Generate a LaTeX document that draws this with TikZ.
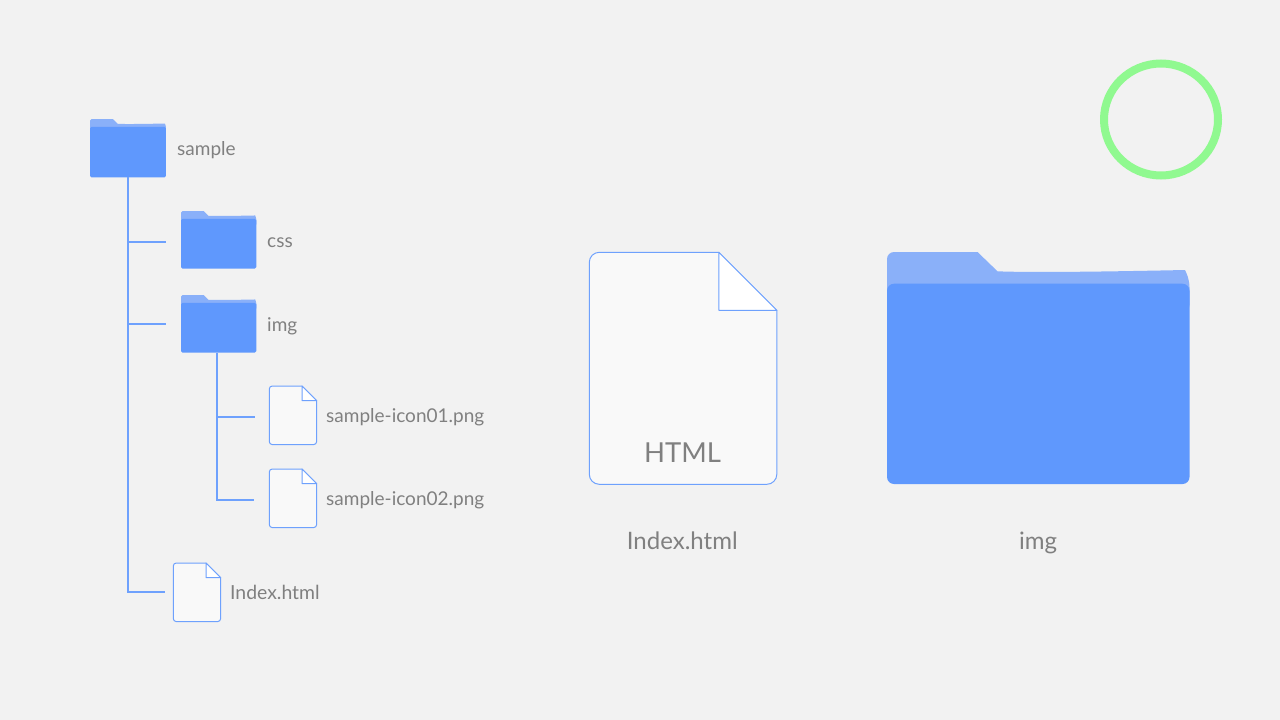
\documentclass[tikz,border=0pt]{standalone}
\usepackage{fontspec}
\usetikzlibrary{shapes.geometric}
\setmainfont{Lato}
\definecolor{bgcol}{HTML}{F2F2F2}
\definecolor{bluecol}{HTML}{5F98FD}
\definecolor{tabcol}{HTML}{8AB0F9}
\definecolor{linecol}{HTML}{6EA1FD}
\definecolor{papercol}{HTML}{F9F9F9}
\definecolor{textcol}{HTML}{808080}
\definecolor{ringcol}{HTML}{90F990}
\tikzset{
  stemline/.style={draw=linecol,line width=2pt},
  label/.style={text=textcol,inner sep=0pt,font=\fontsize{19}{19}\selectfont},
  biglabel/.style={label,font=\fontsize{24}{24}\selectfont},
  iconbox/.style={inner sep=0pt,transform shape}
}
% #1 name, #2 left, #3 top, #4 scale, #5 corner
\newcommand{\foldericon}[5]{
\begin{scope}[shift={(#2,#3)},scale=#4]
\fill[tabcol,rounded corners=#5] (0,40) -- (0,0) [sharp corners] -- (90.5,0) -- (110.5,19.3) .. controls (150,21) and (250,19) .. (298,18) [rounded corners=#5] -- (302.5,28) -- (302.5,60) -- (0,60) -- cycle;
\fill[bluecol,rounded corners=#5] (0,31.7) rectangle (302.5,232);
\node[iconbox,minimum width=302.5pt,minimum height=232pt] (#1) at (151.25,116) {};
\end{scope}
}
\newcommand{\fileicon}[5]{
\begin{scope}[shift={(#2,#3)},scale=#4]
\draw[linecol,fill=papercol,line width=1pt,rounded corners=#5] (129.5,0) -- (0,0) -- (0,232) -- (187.5,232) [sharp corners] -- (187.5,58) -- cycle;
\draw[linecol,fill=white,line width=1pt,line join=round] (129.5,0) -- (187.5,58) -- (129.5,58) -- cycle;
\node[iconbox,minimum width=187.5pt,minimum height=232pt] (#1) at (93.75,116) {};
\end{scope}
}
\begin{document}
\begin{tikzpicture}[x=1pt,y=-1pt]
\useasboundingbox[fill=bgcol] (0,0) rectangle (1280,720);
% tree
\foldericon{sample}{90}{119}{0.2512}{1.5}
\foldericon{css}{181}{211}{0.2488}{1.5}
\foldericon{img}{181}{295}{0.2488}{1.5}
\fileicon{iconA}{269.3}{386}{0.2525}{3}
\fileicon{iconB}{269.3}{469}{0.2525}{3}
\fileicon{index}{173.3}{563}{0.2525}{3}
\coordinate (cssEnd) at (166,242);
\coordinate (imgEnd) at (166,324);
\coordinate (indexEnd) at (165,592);
\coordinate (iconAEnd) at (255,417);
\coordinate (iconBEnd) at (254,500);
\coordinate (imgStem) at ([xshift=-1.6pt]img.south);
\draw[stemline] (sample.south) |- (indexEnd);
\draw[stemline] (sample.south |- cssEnd) -- (cssEnd);
\draw[stemline] (sample.south |- imgEnd) -- (imgEnd);
\draw[stemline] (imgStem) |- (iconBEnd);
\draw[stemline] (imgStem |- iconAEnd) -- (iconAEnd);
\node[label,anchor=base west] (sampleText) at (177,155) {sample};
\node[label,anchor=base west] (cssText) at (267,247) {css};
\node[label,anchor=base west] (imgText) at (267,331) {img};
\node[label,anchor=base west] (iconAText) at (326,422) {sample-icon01.png};
\node[label,anchor=base west] (iconBText) at (326,505) {sample-icon02.png};
\node[label,font=\fontsize{19.4}{19}\selectfont,anchor=base west] (indexText) at (230,599) {Index.html};
% big file and folder
\fileicon{bigfile}{589.3}{252.3}{1}{10}
\foldericon{bigfolder}{887}{252}{1}{7}
\node[biglabel,font=\fontsize{27.5}{28}\selectfont,anchor=base] (htmlText) at (682.5,462) {HTML};
\node[biglabel,anchor=base] (bigfileText) at (682.3,549) {Index.html};
\node[biglabel,anchor=base] (bigfolderText) at (1038,549) {img};
% ring
\node[ellipse,draw=ringcol,line width=8pt,minimum width=114pt,minimum height=112pt,inner sep=0pt] (ring) at (1161,119.5) {};
\end{tikzpicture}
\end{document}
